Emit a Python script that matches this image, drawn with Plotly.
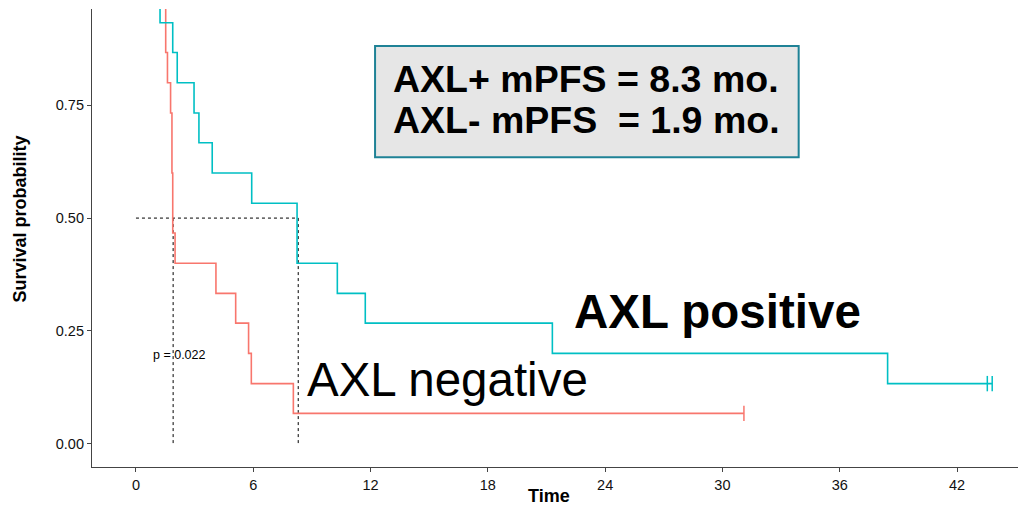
import plotly.graph_objects as go

# ---- data ----
pos_times = [0, 1.23, 1.88, 2.11, 2.97, 3.22, 3.90, 5.92, 8.24, 10.30, 11.73, 21.30, 38.45, 43.80]
pos_surv = [1.0, 0.933, 0.867, 0.800, 0.733, 0.667, 0.600, 0.533, 0.400, 0.333, 0.267, 0.200, 0.133, 0.133]
pos_censor_t = [43.55, 43.80]
pos_censor_s = [0.133, 0.133]

neg_times = [0, 1.52, 1.61, 1.77, 1.84, 1.88, 2.00, 4.09, 5.10, 5.76, 5.90, 8.05, 31.10]
neg_surv = [1.0, 0.867, 0.800, 0.733, 0.600, 0.467, 0.400, 0.333, 0.267, 0.200, 0.133, 0.067, 0.067]
neg_censor_t = [31.10]
neg_censor_s = [0.067]

median_times = [8.3, 1.9]
median_level = 0.5

x_ticks = [0, 6, 12, 18, 24, 30, 36, 42]
y_ticks = [0.0, 0.25, 0.50, 0.75]
y_tick_labels = ["0.00", "0.25", "0.50", "0.75"]

p_text = "p = 0.022"
box_lines = ["AXL+ mPFS = 8.3 mo.", "AXL- mPFS \u00a0= 1.9 mo."]
label_pos = "AXL positive"
label_neg = "AXL negative"

TEAL = "#00BFC4"
RED = "#F8766D"
FONT = "Liberation Sans, Arial, sans-serif"

fig = go.Figure()

# median reference lines
fig.add_trace(go.Scatter(
    x=[0, max(median_times)], y=[median_level, median_level], mode="lines",
    line=dict(color="black", width=1, dash="3px,3px"), hoverinfo="skip", showlegend=False))
for m in median_times:
    fig.add_trace(go.Scatter(
        x=[m, m], y=[median_level, 0], mode="lines",
        line=dict(color="black", width=1, dash="3px,3px"), hoverinfo="skip", showlegend=False))

# KM curves
fig.add_trace(go.Scatter(x=neg_times, y=neg_surv, mode="lines", line=dict(color=RED, width=1.6, shape="hv"),
                         showlegend=False))
fig.add_trace(go.Scatter(x=pos_times, y=pos_surv, mode="lines", line=dict(color=TEAL, width=1.6, shape="hv"),
                         showlegend=False))
# censor marks
fig.add_trace(go.Scatter(x=neg_censor_t, y=neg_censor_s, mode="markers",
                         marker=dict(symbol="line-ns-open", size=11, color=RED,
                                     line=dict(color=RED, width=1.5)),
                         showlegend=False))
fig.add_trace(go.Scatter(x=pos_censor_t, y=pos_censor_s, mode="markers",
                         marker=dict(symbol="line-ns-open", size=11, color=TEAL,
                                     line=dict(color=TEAL, width=1.5)),
                         showlegend=False))

# info box
fig.add_shape(type="rect", xref="x", yref="y", x0=12.23, x1=33.9, y0=0.635, y1=0.8815,
              line=dict(color="#1f8296", width=2), fillcolor="#e6e6e6", layer="above")

annotations = [
    dict(text="<b>" + box_lines[0] + "</b>", x=13.05, y=0.808, xref="x", yref="y", xanchor="left",
         yanchor="middle", showarrow=False, font=dict(family=FONT, size=37.5, color="black")),
    dict(text="<b>" + box_lines[1] + "</b>", x=13.05, y=0.718, xref="x", yref="y", xanchor="left",
         yanchor="middle", showarrow=False, font=dict(family=FONT, size=37.5, color="black")),
    dict(text="<b>" + label_pos + "</b>", x=22.3, y=0.292, xref="x", yref="y", xanchor="left", yanchor="middle",
         showarrow=False, font=dict(family=FONT, size=47.5, color="black")),
    dict(text=label_neg, x=8.65, y=0.142, xref="x", yref="y", xanchor="left", yanchor="middle",
         showarrow=False, font=dict(family=FONT, size=47.5, color="black")),
    dict(text=p_text, x=2.21, y=0.196, xref="x", yref="y", xanchor="center", yanchor="middle",
         showarrow=False, font=dict(family=FONT, size=12.5, color="black")),
    dict(text="<b>Survival probability</b>", x=-0.0778, y=0.5423, xref="paper", yref="paper",
         xanchor="center", yanchor="middle", textangle=-90, showarrow=False,
         font=dict(family=FONT, size=18, color="black")),
    dict(text="<b>Time</b>", x=0.494, y=-0.064, xref="paper", yref="paper",
         xanchor="center", yanchor="middle", showarrow=False,
         font=dict(family=FONT, size=18, color="black")),
]

fig.update_layout(
    width=1020, height=505,
    margin=dict(l=92, r=2, t=9, b=38.3),
    paper_bgcolor="white", plot_bgcolor="white",
    annotations=annotations,
    font=dict(family=FONT, color="#111"),
    xaxis=dict(range=[-2.25, 45.12], tickvals=x_ticks, ticks="outside", ticklen=4, tickcolor="#444",
               showline=True, linecolor="#444", linewidth=1.2, showgrid=False, zeroline=False,
               tickfont=dict(size=14.5, color="#111", family=FONT)),
    yaxis=dict(range=[-0.0519, 0.9636], tickvals=y_ticks, ticktext=y_tick_labels, ticks="outside", ticklen=4,
               tickcolor="#444", showline=True, linecolor="#444", linewidth=1.2, showgrid=False,
               zeroline=False, tickfont=dict(size=14.5, color="#111", family=FONT)),
)

fig.write_html("out.html")
